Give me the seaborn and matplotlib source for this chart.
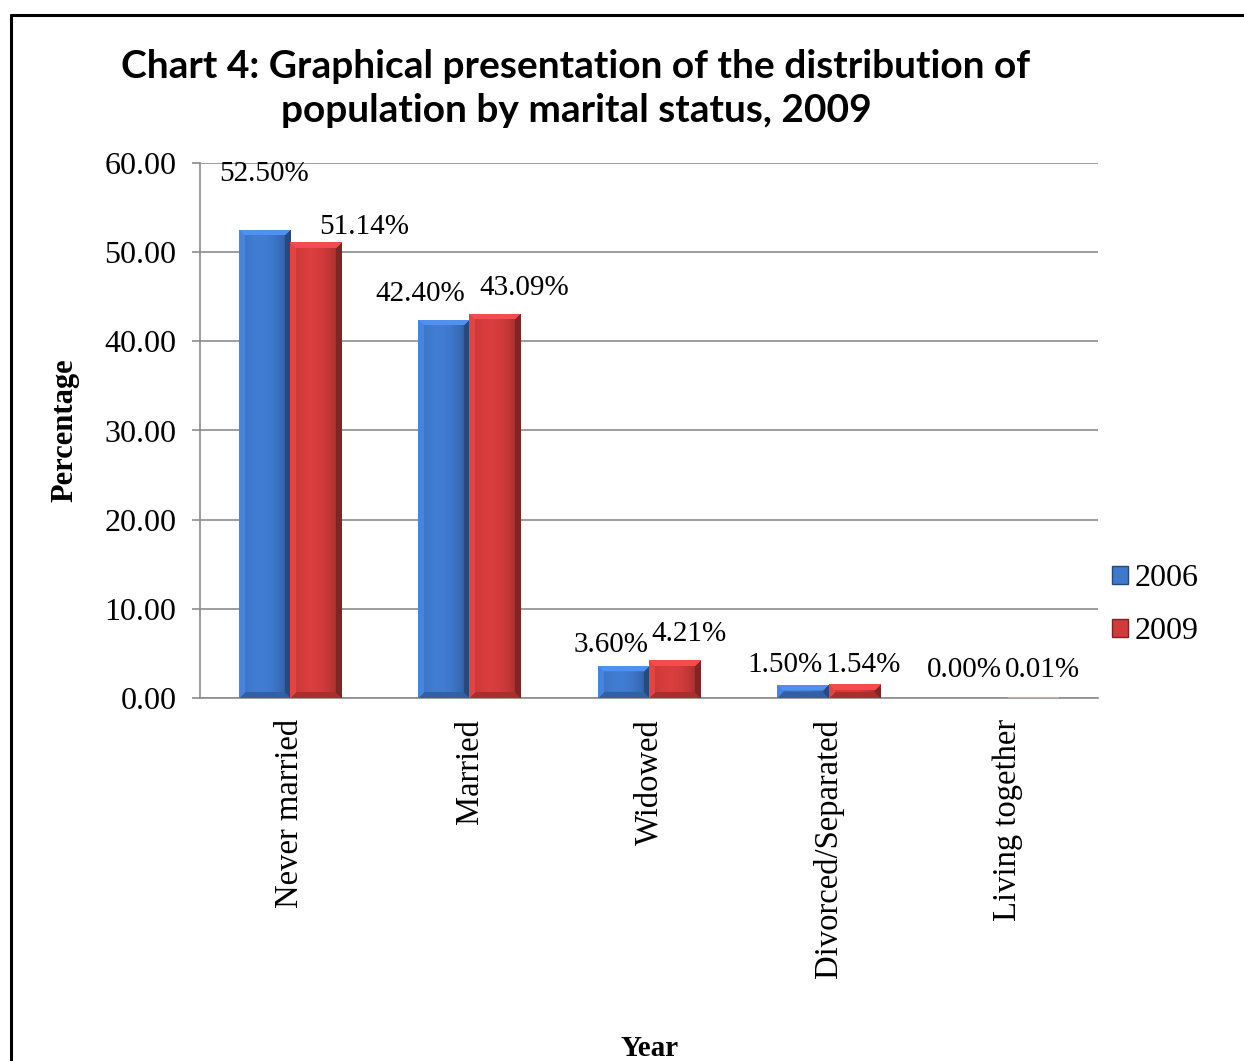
import numpy as np
import pandas as pd
import matplotlib
matplotlib.use("Agg")
import matplotlib.pyplot as plt
import seaborn as sns
from matplotlib.patches import Patch
from matplotlib.lines import Line2D
from matplotlib.colors import to_rgb

# ---- data -------------------------------------------------------------
statuses = ["Never married", "Married", "Widowed", "Divorced/Separated", "Living together"]
years = ["2006", "2009"]
pct_2006 = [52.50, 42.40, 3.60, 1.50, 0.00]
pct_2009 = [51.14, 43.09, 4.21, 1.54, 0.01]

# label nudges (pixels) so neighbouring value labels do not collide
label_dx_2006 = [0, -24, -12, -18, -18]
label_dx_2009 = [49, 29, 14, 9, 9]
label_dy_2006 = [56, 26, 21, 20, 28]
label_dy_2009 = [15, 26, 26, 19, 28]

df = pd.DataFrame({
    "status": statuses * 2,
    "year": [years[0]] * len(statuses) + [years[1]] * len(statuses),
    "pct": pct_2006 + pct_2009,
})

sns.set_theme(style="white")
plt.rcParams["font.family"] = ["Liberation Serif", "DejaVu Sans"]
plt.rcParams["text.color"] = "black"

W, H, DPI = 1244, 1061, 100
fig = plt.figure(figsize=(W / DPI, H / DPI), dpi=DPI)
ax = fig.add_axes([200 / W, (H - 698) / H, 898 / W, (698 - 163) / H])

palette = {"2006": "#3f78cc", "2009": "#d13b3b"}
sns.barplot(data=df, x="status", y="pct", hue="year", order=statuses,
            hue_order=years, palette=palette, width=0.57, gap=0,
            saturation=1, ax=ax, legend=False, linewidth=0, zorder=3)

ax.set_ylim(0, 60)
ax.set_xlim(-0.5, len(statuses) - 0.5)
ax.set_yticks(np.arange(0, 61, 10))
ax.set_yticklabels([f"{v:.2f}" for v in np.arange(0, 61, 10)], fontsize=23, color="black")
ax.yaxis.grid(True, color="#8c8c8c", linewidth=1.2, zorder=0)
ax.set_axisbelow(True)
for side in ["top", "right"]:
    ax.spines[side].set_visible(False)
for side in ["left", "bottom"]:
    ax.spines[side].set_color("#8c8c8c")
    ax.spines[side].set_linewidth(1.2)
ax.tick_params(axis="y", direction="out", length=6, width=1.2, color="#8c8c8c",
               left=True, pad=11, labelsize=23, labelcolor="black")
ax.tick_params(axis="x", length=0, pad=15, labelcolor="black")
ax.set_xticks(range(len(statuses)))
ax.set_xticklabels(statuses, rotation=90, fontsize=23.5, va="top", ha="center")
ax.set_xlabel("")
ax.set_ylabel("")


def shade_bar(patch, base_hex):
    """Overlay a bevelled gradient clipped to the bar rectangle."""
    x0, y0 = patch.get_x(), patch.get_y()
    w, h = patch.get_width(), patch.get_height()
    bb = patch.get_window_extent()
    pw = max(int(round(bb.width)), 2)
    ph = int(round(bb.height))
    if ph < 2:
        return
    base = np.array(to_rgb(base_hex))
    xs = np.arange(pw) + 0.5
    ys = np.arange(ph) + 0.5  # 0 = top of bar
    X, Y = np.meshgrid(xs, ys)
    # body: soft horizontal gradient, slightly lighter left of centre
    t = xs / pw
    prof = 1.04 - 0.9 * (t - 0.4) ** 2
    img = base[None, None, :] * prof[None, :, None] * np.ones((ph, 1, 1))
    b = min(6, pw / 4, ph / 2)
    dl, dr, dt, db = X, pw - X, Y, ph - Y
    dmin = np.minimum(np.minimum(dl, dr), np.minimum(dt, db))
    in_bev = dmin < b
    top = in_bev & (dt == dmin)
    left = in_bev & (dl == dmin) & ~top
    right = in_bev & (dr == dmin) & ~top
    bottom = in_bev & (db == dmin) & ~top & ~left & ~right
    img[top] = np.clip(base * 1.12 + 0.04, 0, 1)
    img[left] = np.clip(base * 1.06 + 0.02, 0, 1)
    img[right] = base * 0.62
    img[bottom] = base * 0.8
    img = np.clip(img, 0, 1)
    im = ax.imshow(img, extent=(x0, x0 + w, y0, y0 + h), origin="upper",
                   aspect="auto", zorder=4, interpolation="bilinear")
    im.set_clip_path(patch)


fig.canvas.draw()
bars = list(ax.patches)[: 2 * len(statuses)]
bars_2006 = bars[: len(statuses)]
bars_2009 = bars[len(statuses):]
for p in bars_2006:
    shade_bar(p, palette["2006"])
for p in bars_2009:
    shade_bar(p, palette["2009"])
# a near-zero bar still shows as a faint tinted line on the baseline
for p, v in zip(bars_2009, pct_2009):
    if 0 < v < 0.5:
        p.set_edgecolor("#e2a3a0")
        p.set_linewidth(1.5)
ax.set_xlim(-0.5, len(statuses) - 0.5)
ax.set_ylim(0, 60)

for group, vals, dxs, dys in [(bars_2006, pct_2006, label_dx_2006, label_dy_2006),
                              (bars_2009, pct_2009, label_dx_2009, label_dy_2009)]:
    for p, v, dx, dy in zip(group, vals, dxs, dys):
        ax.annotate(f"{v:.2f}%", (p.get_x() + p.get_width() / 2, v),
                    xytext=(dx, dy), textcoords="offset pixels",
                    ha="center", va="center", fontsize=21, zorder=6,
                    color="black", annotation_clip=False)

# legend
handles = [Patch(facecolor=palette[y], edgecolor=np.array(to_rgb(palette[y])) * 0.6,
                 linewidth=1) for y in years]
ax.legend(handles, years, loc="center left", bbox_to_anchor=(1112 / W, (H - 605) / H),
          bbox_transform=fig.transFigure, frameon=False, fontsize=23,
          handlelength=0.5, handleheight=0.5, handletextpad=0.2,
          labelspacing=0.75, borderaxespad=0, borderpad=0)

# titles and axis names
fig.text(576 / W, 1 - 67 / H, "Chart 4: Graphical presentation of the distribution of",
         ha="center", va="center", fontsize=28, fontweight="bold", family="Lato",
         color="black")
fig.text(576 / W, 1 - 110 / H, "population by marital status, 2009",
         ha="center", va="center", fontsize=28, fontweight="bold", family="Lato",
         color="black")
fig.text(65 / W, 1 - 430 / H, "Percentage", rotation=90, ha="center", va="center",
         fontsize=22, fontweight="bold", color="black")
fig.text(650 / W, 1 - 1048 / H, "Year", ha="center", va="center",
         fontsize=21, fontweight="bold", color="black")

# outer frame (left and top edges)
fig.add_artist(Line2D([11 / W, 11 / W], [0, 1 - 15 / H], transform=fig.transFigure,
                      color="black", linewidth=2.2))
fig.add_artist(Line2D([11 / W, 1], [1 - 15 / H, 1 - 15 / H], transform=fig.transFigure,
                      color="black", linewidth=2.2))

fig.savefig("out.png", dpi=DPI, facecolor="white")
